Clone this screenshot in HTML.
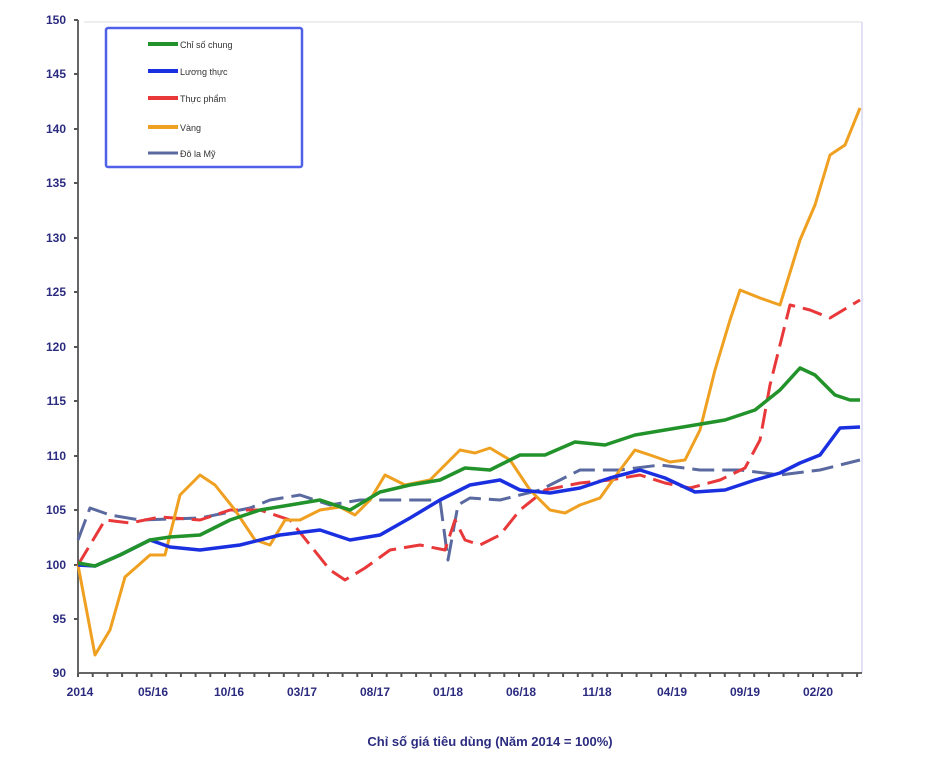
<!DOCTYPE html>
<html><head><meta charset="utf-8"><style>
body{margin:0;background:#fff;}
svg{display:block;font-family:"Liberation Sans",sans-serif;}
.yl{font-size:12px;font-weight:bold;fill:#2b2b80;text-anchor:end;}
.xl{font-size:12px;font-weight:bold;fill:#2b2b80;text-anchor:middle;}
</style></head><body>
<svg width="925" height="768" viewBox="0 0 925 768">
<line x1="84" y1="22" x2="862" y2="22" stroke="#ddd" stroke-width="1"/>
<line x1="862" y1="22" x2="862" y2="673" stroke="#d8d8f0" stroke-width="1.5"/>
<line x1="78" y1="20" x2="78" y2="673" stroke="#666" stroke-width="2"/>
<line x1="78" y1="673" x2="862" y2="673" stroke="#666" stroke-width="2"/>
<g stroke="#555" stroke-width="2">
<line x1="74" y1="20" x2="78" y2="20"/><line x1="74" y1="74" x2="78" y2="74"/><line x1="74" y1="129" x2="78" y2="129"/><line x1="74" y1="183" x2="78" y2="183"/><line x1="74" y1="238" x2="78" y2="238"/><line x1="74" y1="292" x2="78" y2="292"/><line x1="74" y1="347" x2="78" y2="347"/><line x1="74" y1="401" x2="78" y2="401"/><line x1="74" y1="456" x2="78" y2="456"/><line x1="74" y1="510" x2="78" y2="510"/><line x1="74" y1="565" x2="78" y2="565"/><line x1="74" y1="619" x2="78" y2="619"/>
</g>
<path d="M78 673 v4 M92.7 673 v4 M107.4 673 v4 M122.1 673 v4 M136.8 673 v4 M151.5 673 v4 M166.2 673 v4 M180.9 673 v4 M195.6 673 v4 M210.3 673 v4 M225 673 v4 M239.7 673 v4 M254.4 673 v4 M269.1 673 v4 M283.8 673 v4 M298.5 673 v4 M313.2 673 v4 M327.9 673 v4 M342.6 673 v4 M357.3 673 v4 M372 673 v4 M386.7 673 v4 M401.4 673 v4 M416.1 673 v4 M430.8 673 v4 M445.5 673 v4 M460.2 673 v4 M474.9 673 v4 M489.6 673 v4 M504.3 673 v4 M519 673 v4 M533.7 673 v4 M548.4 673 v4 M563.1 673 v4 M577.8 673 v4 M592.5 673 v4 M607.2 673 v4 M621.9 673 v4 M636.6 673 v4 M651.3 673 v4 M666 673 v4 M680.7 673 v4 M695.4 673 v4 M710.1 673 v4 M724.8 673 v4 M739.5 673 v4 M754.2 673 v4 M768.9 673 v4 M783.6 673 v4 M798.3 673 v4 M813 673 v4 M827.7 673 v4 M842.4 673 v4 M857.1 673 v4" stroke="#555" stroke-width="2"/>
<g class="yl">
<text x="66" y="24">150</text><text x="66" y="78">145</text><text x="66" y="133">140</text><text x="66" y="187">135</text><text x="66" y="242">130</text><text x="66" y="296">125</text><text x="66" y="351">120</text><text x="66" y="405">115</text><text x="66" y="460">110</text><text x="66" y="514">105</text><text x="66" y="569">100</text><text x="66" y="623">95</text><text x="66" y="677">90</text>
</g>
<g class="xl">
<text x="80" y="696">2014</text><text x="153" y="696">05/16</text><text x="229" y="696">10/16</text><text x="302" y="696">03/17</text><text x="375" y="696">08/17</text><text x="448" y="696">01/18</text><text x="521" y="696">06/18</text><text x="597" y="696">11/18</text><text x="672" y="696">04/19</text><text x="745" y="696">09/19</text><text x="818" y="696">02/20</text>
</g>
<text x="490" y="746" class="xl" style="font-size:13px">Chỉ số giá tiêu dùng (Năm 2014 = 100%)</text>
<g fill="none" stroke-linejoin="round">
<polyline stroke="#5a6aa0" stroke-width="3" stroke-dasharray="22,8" points="78,540 90,508 110,515 140,520 200,518 250,508 270,500 300,495 330,505 360,500 400,500 440,500 448,560 458,505 470,498 500,500 540,490 580,470 620,470 660,465 700,470 740,470 780,475 820,470 860,460"/>
<polyline stroke="#e8383a" stroke-width="3" stroke-dasharray="20,8" points="78,565 90,545 105,520 130,523 160,517 200,520 230,510 260,510 290,520 310,545 330,570 345,580 365,568 390,550 420,545 445,550 455,520 465,540 480,545 500,535 520,510 545,490 580,483 610,480 640,475 665,483 690,488 720,480 745,468 760,440 770,385 790,305 810,310 830,318 860,300"/>
<polyline stroke="#f0a020" stroke-width="3" points="78,565 95,655 110,630 125,577 150,555 165,555 180,495 200,475 215,485 235,510 255,540 270,545 285,520 300,520 320,510 340,507 355,515 370,500 385,475 405,485 430,480 445,465 460,450 475,453 490,448 510,460 530,490 550,510 565,513 580,505 600,498 620,470 635,450 650,455 670,462 685,460 700,430 715,370 730,320 740,290 760,298 780,305 800,240 815,205 830,155 845,145 860,108"/>
<polyline stroke="#1a30e0" stroke-width="3.5" points="78,565 95,566 120,555 150,540 170,547 200,550 240,545 280,535 320,530 350,540 380,535 410,518 440,500 470,485 500,480 520,490 550,493 580,488 610,478 640,470 665,478 695,492 725,490 755,480 780,473 800,463 820,455 840,428 860,427"/>
<polyline stroke="#22922a" stroke-width="3.5" points="78,563 95,566 120,555 150,540 170,537 200,535 230,520 260,510 290,505 320,500 350,510 380,492 410,485 440,480 465,468 490,470 520,455 545,455 575,442 605,445 635,435 665,430 695,425 725,420 755,410 780,390 800,368 815,375 835,395 850,400 860,400"/>
</g>
<rect x="106" y="28" width="196" height="139" fill="#fff" stroke="#5060e8" stroke-width="2.5" rx="2"/>
<g stroke-width="4">
<line x1="148" y1="44" x2="178" y2="44" stroke="#22922a"/>
<line x1="148" y1="71" x2="178" y2="71" stroke="#1a30e0"/>
<line x1="148" y1="98" x2="178" y2="98" stroke="#e8383a"/>
<line x1="148" y1="127" x2="178" y2="127" stroke="#f0a020"/>
<line x1="148" y1="153" x2="178" y2="153" stroke="#5a6aa0" stroke-width="3"/>
</g>
<g style="font-size:9px;fill:#333">
<text x="180" y="48">Chỉ số chung</text>
<text x="180" y="75">Lương thực</text>
<text x="180" y="102">Thực phẩm</text>
<text x="180" y="131">Vàng</text>
<text x="180" y="157">Đô la Mỹ</text>
</g>
</svg>
</body></html>
